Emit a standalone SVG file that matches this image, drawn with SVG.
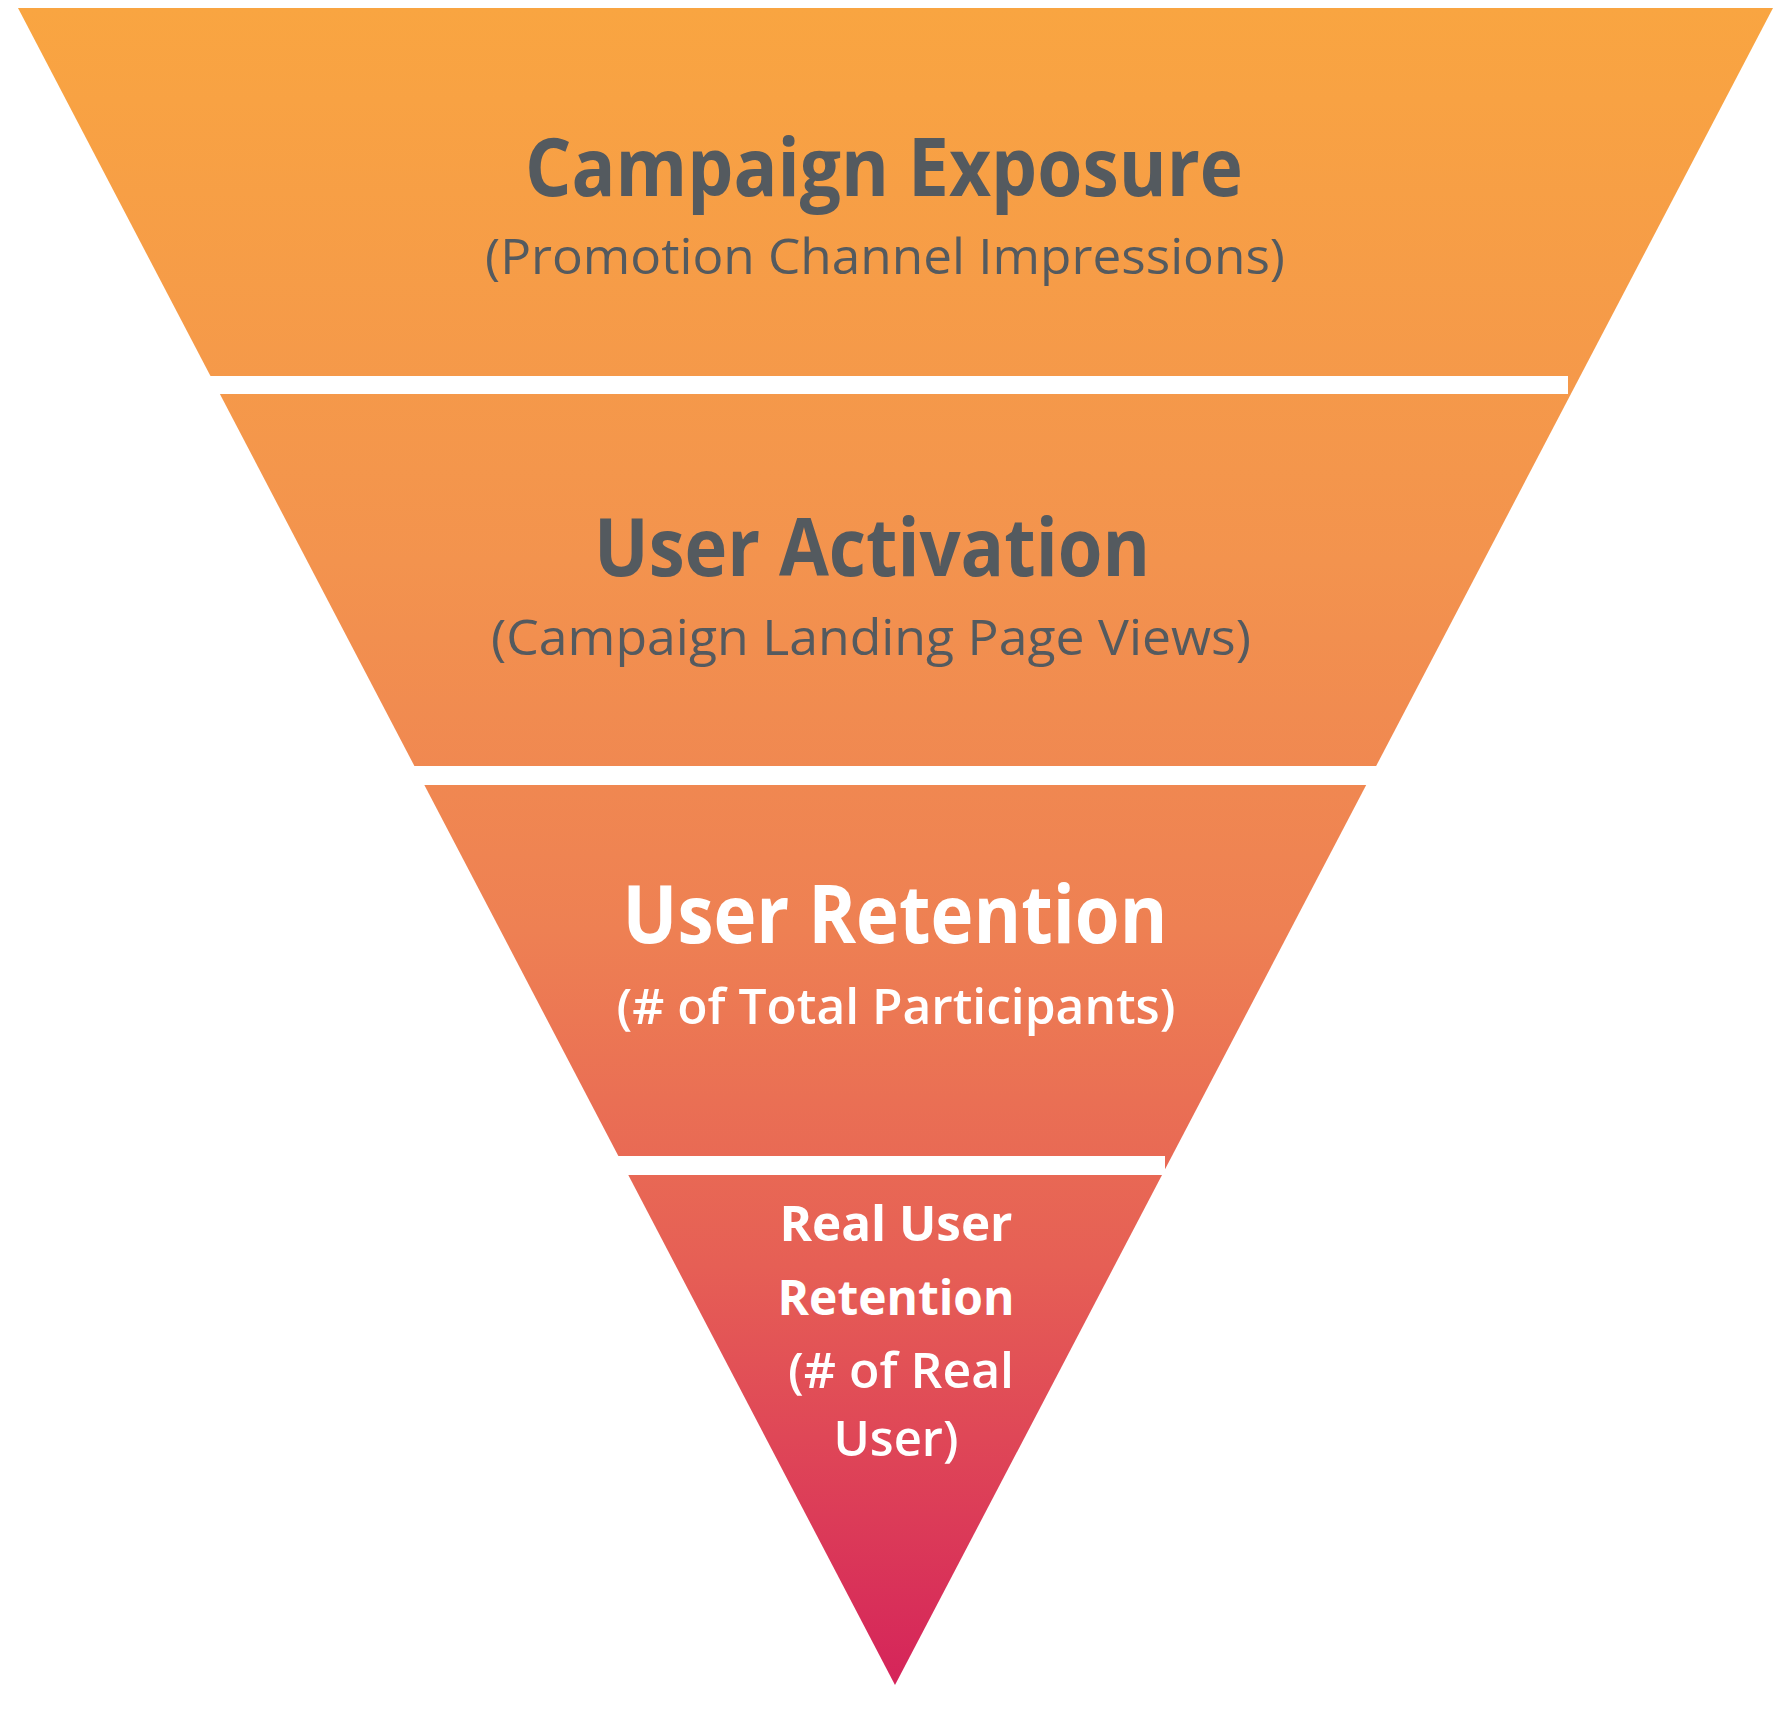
<svg xmlns="http://www.w3.org/2000/svg" width="1791" height="1710" viewBox="0 0 1791 1710">
<defs>
<linearGradient id="funnelGrad" gradientUnits="userSpaceOnUse" x1="0" y1="8" x2="0" y2="1685">
<stop offset="0" stop-color="#F9A541"/>
<stop offset="0.33" stop-color="#F3934E"/>
<stop offset="0.55" stop-color="#EE8053"/>
<stop offset="0.75" stop-color="#E65F55"/>
<stop offset="1" stop-color="#D5245A"/>
</linearGradient>
<style>
.title{font-family:"Open Sans","Liberation Sans",sans-serif;font-weight:bold;text-anchor:middle}
.sub{font-family:"Open Sans","Liberation Sans",sans-serif;font-weight:500;text-anchor:middle}
.semi{font-weight:600}
.dark{fill:#545A5F}
.light{fill:#FFFFFF}
.gap{fill:#FFFFFF}
</style>
</defs>
<rect width="1791" height="1710" fill="#FFFFFF"/>
<g id="funnel">
<polygon points="18,8 1773,8 895,1685" fill="url(#funnelGrad)"/>
<rect class="gap" x="180" y="376" width="1388" height="18"/>
<rect class="gap" x="400" y="766" width="990" height="19"/>
<rect class="gap" x="600" y="1156" width="565" height="19"/>
</g>
<g id="node-campaign-exposure">
<text class="title dark" x="884" y="196" font-size="80" textLength="718" lengthAdjust="spacingAndGlyphs">Campaign Exposure</text>
<text class="sub dark" x="885" y="274" font-size="49" textLength="800" lengthAdjust="spacingAndGlyphs">(Promotion Channel Impressions)</text>
</g>
<g id="node-user-activation">
<text class="title dark" x="872" y="576" font-size="80" textLength="556" lengthAdjust="spacingAndGlyphs">User Activation</text>
<text class="sub dark" x="871" y="655" font-size="49" textLength="760" lengthAdjust="spacingAndGlyphs">(Campaign Landing Page Views)</text>
</g>
<g id="node-user-retention">
<text class="title light" x="895" y="943" font-size="80" textLength="545" lengthAdjust="spacingAndGlyphs">User Retention</text>
<text class="sub semi light" x="896" y="1024" font-size="49" textLength="559" lengthAdjust="spacingAndGlyphs">(# of Total Participants)</text>
</g>
<g id="node-real-user-retention">
<text class="title light" x="896" y="1241" font-size="48" textLength="233" lengthAdjust="spacingAndGlyphs">Real User</text>
<text class="title light" x="896" y="1315" font-size="48" textLength="237" lengthAdjust="spacingAndGlyphs">Retention</text>
<text class="sub semi light" x="901" y="1388" font-size="49" textLength="226" lengthAdjust="spacingAndGlyphs">(# of Real</text>
<text class="sub semi light" x="896" y="1456" font-size="49" textLength="125" lengthAdjust="spacingAndGlyphs">User)</text>
</g>
<g id="connectors"></g>
</svg>
